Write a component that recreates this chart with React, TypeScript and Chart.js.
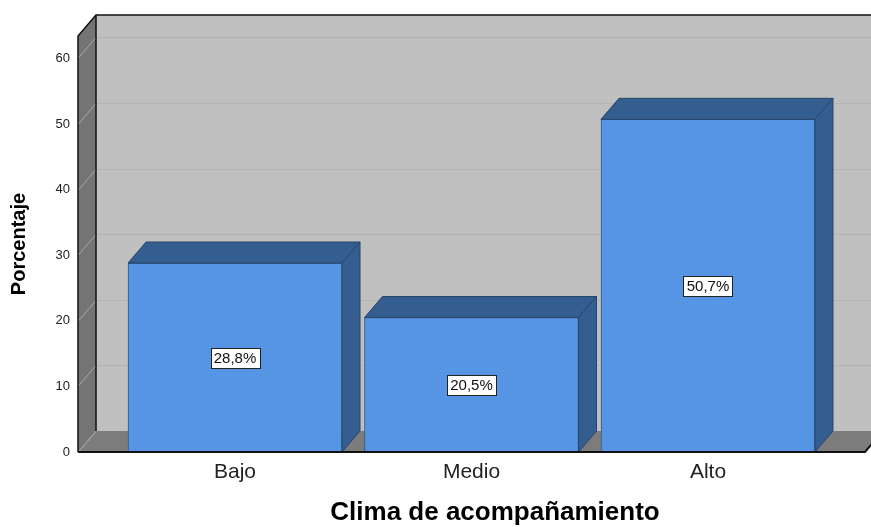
import React, { useEffect, useRef } from "react";
import { Chart, registerables } from "chart.js";

Chart.register(...registerables);

const categories = ["Bajo", "Medio", "Alto"];
const percentages = [28.8, 20.5, 50.7];
const valueLabels = ["28,8%", "20,5%", "50,7%"];
const yTicks = [0, 10, 20, 30, 40, 50, 60];
const yTitle = "Porcentaje";
const xTitle = "Clima de acompañamiento";

const DX = 18;
const DY = -21;
const FONT = "'Liberation Sans', Arial, sans-serif";

const box3d = {
  id: "box3d",
  beforeDatasetsDraw(chart: any) {
    const { ctx, chartArea: a, scales } = chart;
    const L = a.left, R = a.right, T = a.top, B = a.bottom;
    ctx.save();
    ctx.fillStyle = "#c0c0c0";
    ctx.fillRect(L + DX, T + DY, R - L + 40, B - T);
    ctx.fillStyle = "#747474";
    ctx.beginPath();
    ctx.moveTo(L, B); ctx.lineTo(L, T); ctx.lineTo(L + DX, T + DY); ctx.lineTo(L + DX, B + DY); ctx.closePath();
    ctx.fill();
    ctx.fillStyle = "#7c7c7c";
    ctx.beginPath();
    ctx.moveTo(L, B); ctx.lineTo(R, B); ctx.lineTo(R + DX, B + DY); ctx.lineTo(L + DX, B + DY); ctx.closePath();
    ctx.fill();
    ctx.lineWidth = 1;
    for (const v of yTicks) {
      const y = Math.round(scales.y.getPixelForValue(v)) + 0.5;
      ctx.strokeStyle = "#a9a9a9";
      ctx.beginPath();
      ctx.moveTo(L, y); ctx.lineTo(L + DX, y + DY);
      ctx.stroke();
      if (v > 0) {
        ctx.strokeStyle = "#b4b4b4";
        ctx.beginPath();
        ctx.moveTo(L + DX, y + DY); ctx.lineTo(R + DX + 40, y + DY);
        ctx.stroke();
      }
    }
    ctx.strokeStyle = "#111";
    ctx.lineWidth = 1.5;
    ctx.beginPath();
    ctx.moveTo(L, B); ctx.lineTo(L, T); ctx.lineTo(L + DX, T + DY); ctx.lineTo(R + DX + 40, T + DY);
    ctx.moveTo(L + DX, T + DY); ctx.lineTo(L + DX, B + DY);
    ctx.stroke();
    ctx.restore();
  },
  afterDatasetsDraw(chart: any) {
    const { ctx, chartArea: a } = chart;
    const meta = chart.getDatasetMeta(0);
    ctx.save();
    meta.data.forEach((bar: any, i: number) => {
      const { x, y, base, width } = bar.getProps(["x", "y", "base", "width"], true);
      const l = x - width / 2, r = x + width / 2;
      ctx.fillStyle = "#355e90";
      ctx.strokeStyle = "#27456b";
      ctx.lineWidth = 1;
      ctx.beginPath();
      ctx.moveTo(l, y); ctx.lineTo(l + DX, y + DY); ctx.lineTo(r + DX, y + DY); ctx.lineTo(r, y); ctx.closePath();
      ctx.fill(); ctx.stroke();
      ctx.beginPath();
      ctx.moveTo(r, y); ctx.lineTo(r + DX, y + DY); ctx.lineTo(r + DX, base + DY); ctx.lineTo(r, base); ctx.closePath();
      ctx.fill(); ctx.stroke();
      const cy = (y + base) / 2;
      ctx.font = `15px ${FONT}`;
      const tw = ctx.measureText(valueLabels[i]).width;
      const bw = Math.round(tw + 6), bh = 20;
      const bx = Math.round(x - bw / 2) + 0.5, by = Math.round(cy - bh / 2) + 0.5;
      ctx.fillStyle = "#ffffff";
      ctx.fillRect(bx, by, bw, bh);
      ctx.strokeStyle = "#222";
      ctx.strokeRect(bx, by, bw, bh);
      ctx.fillStyle = "#111";
      ctx.textAlign = "center";
      ctx.textBaseline = "middle";
      ctx.fillText(valueLabels[i], x, cy + 1);
    });
    ctx.strokeStyle = "#111";
    ctx.lineWidth = 2;
    ctx.beginPath();
    ctx.moveTo(a.left, a.bottom); ctx.lineTo(a.right, a.bottom); ctx.lineTo(a.right + DX, a.bottom + DY);
    ctx.stroke();
    ctx.fillStyle = "#000";
    ctx.font = `bold 26px ${FONT}`;
    ctx.textAlign = "center";
    ctx.textBaseline = "middle";
    ctx.fillText(xTitle, 495, 513);
    ctx.restore();
  },
};

export default function App() {
  const ref = useRef<HTMLCanvasElement>(null);
  useEffect(() => {
    if (!ref.current) return;
    const chart = new Chart(ref.current, {
      type: "bar",
      data: {
        datasets: [
          {
            data: categories.map((_, i) => ({ x: i, y: percentages[i] })),
            backgroundColor: "#5595e3",
            borderColor: "#2f5484",
            borderWidth: 1,
            barThickness: 214,
          },
        ],
      },
      options: {
        animation: false,
        responsive: false,
        layout: { padding: { left: 4, top: 36, right: 6, bottom: 0 } },
        plugins: { legend: { display: false }, tooltip: { enabled: false } },
        scales: {
          x: {
            type: "linear",
            offset: false,
            min: -0.664,
            max: 2.664,
            grid: { display: false, drawTicks: false, offset: false },
            border: { display: false },
            afterBuildTicks: (s: any) => {
              s.ticks = categories.map((_, i) => ({ value: i }));
            },
            afterFit: (s: any) => {
              s.height = 75;
            },
            ticks: {
              callback: (v: any) => categories[v as number] ?? "",
              font: { family: FONT, size: 21 },
              color: "#222",
              padding: 8,
              maxRotation: 0,
              autoSkip: false,
            },
          },
          y: {
            min: 0,
            max: 63.4,
            grid: { display: false, drawTicks: false },
            border: { display: false },
            afterBuildTicks: (s: any) => {
              s.ticks = yTicks.map((v) => ({ value: v }));
            },
            afterFit: (s: any) => {
              s.width = 74;
            },
            ticks: {
              font: { family: FONT, size: 13 },
              color: "#222",
              padding: 8,
            },
            title: {
              display: true,
              text: yTitle,
              font: { family: FONT, size: 20, weight: "bold" },
              color: "#000",
              padding: { top: 3, bottom: 0 },
            },
          },
        },
      },
      plugins: [box3d],
    });
    return () => chart.destroy();
  }, []);
  return (
    <div style={{ position: "absolute", left: 0, top: 0, width: 871, height: 527, background: "#fff" }}>
      <canvas ref={ref} width={871} height={527} style={{ display: "block" }} />
    </div>
  );
}
